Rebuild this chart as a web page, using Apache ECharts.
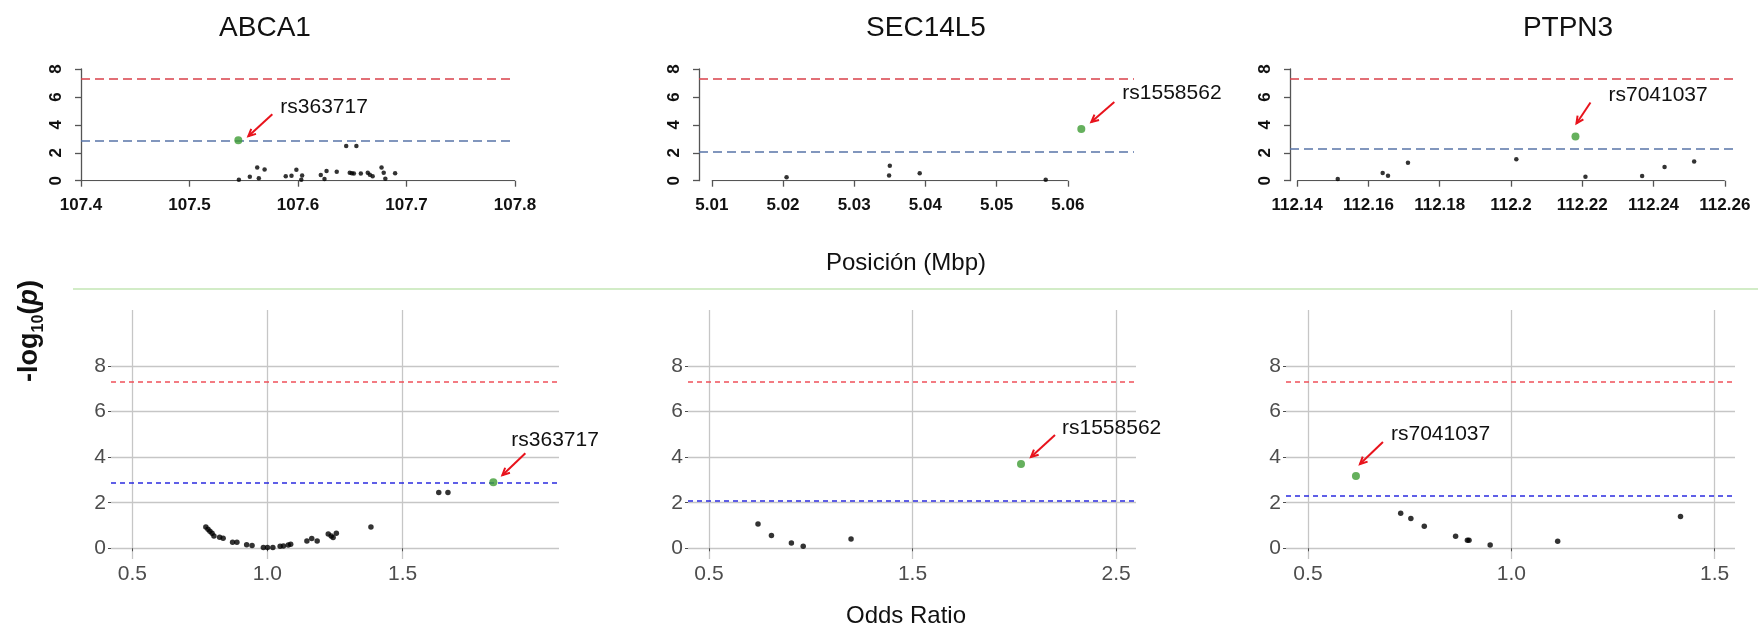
<!DOCTYPE html>
<html><head><meta charset="utf-8">
<script src="https://cdn.jsdelivr.net/npm/echarts@6/dist/echarts.min.js"></script>
<style>html,body{margin:0;padding:0;background:#fff}#c{width:1758px;height:629px}</style>
</head><body><div id="c"></div>
<script>
// ---------------- DATA ----------------
const genes = ['ABCA1', 'SEC14L5', 'PTPN3'];
const leadSnps = ['rs363717', 'rs1558562', 'rs7041037'];
const genomeWideLine = 7.3;
const suggestiveLines = [2.89, 2.08, 2.31];

// positions (Mbp) and -log10(p), top row
const abca1Pos = [107.5455,107.5556,107.5624,107.5639,107.5692,107.5887,107.594,107.5985,107.6038,107.603,107.621,107.6244,107.6263,107.6357,107.6444,107.6538,107.6477,107.6496,107.6515,107.6579,107.6643,107.6662,107.6688,107.677,107.679,107.6805,107.6895];
const abca1PosLogP = [0.07,0.28,0.95,0.17,0.8,0.31,0.36,0.78,0.38,0.07,0.4,0.12,0.69,0.64,2.49,2.49,0.57,0.54,0.52,0.52,0.57,0.43,0.31,0.95,0.57,0.14,0.54];
const sec14l5Pos = [5.0205,5.035,5.0349,5.0392,5.0569];
const sec14l5PosLogP = [0.24,1.07,0.38,0.54,0.07];
const ptpn3Pos = [112.1514,112.164,112.1655,112.1711,112.2015,112.2209,112.2368,112.2431,112.2514];
const ptpn3PosLogP = [0.12,0.55,0.36,1.29,1.53,0.29,0.33,0.98,1.38];

// odds ratios and -log10(p), bottom row
const abca1OR = [0.772,0.78,0.787,0.795,0.802,0.823,0.836,0.871,0.887,0.923,0.943,0.985,1.0,1.02,1.047,1.059,1.077,1.086,1.146,1.164,1.184,1.225,1.236,1.243,1.255,1.383,1.634,1.668];
const abca1ORLogP = [0.93,0.84,0.75,0.66,0.54,0.48,0.44,0.26,0.26,0.16,0.12,0.03,0.03,0.04,0.09,0.10,0.15,0.18,0.32,0.43,0.32,0.63,0.54,0.47,0.66,0.93,2.45,2.45];
const sec14l5OR = [0.741,0.807,0.905,0.963,1.198];
const sec14l5ORLogP = [1.07,0.56,0.23,0.09,0.41];
const ptpn3OR = [0.728,0.753,0.786,0.863,0.892,0.896,0.948,1.114,1.416];
const ptpn3ORLogP = [1.54,1.31,0.97,0.53,0.35,0.35,0.15,0.31,1.40];

// lead SNPs
const leadPos = [107.545, 5.0619, 112.2181];
const leadOR = [1.836, 2.033, 0.618];
const leadLogP = [2.9, 3.7, 3.17];

// tick values / labels
const posTicks = [
  [107.4, 107.5, 107.6, 107.7, 107.8],
  [5.01, 5.02, 5.03, 5.04, 5.05, 5.06],
  [112.14, 112.16, 112.18, 112.2, 112.22, 112.24, 112.26]
];
const orTicks = [[0.5, 1.0, 1.5], [0.5, 1.5, 2.5], [0.5, 1.0, 1.5]];
const logpTicks = [0, 2, 4, 6, 8];
const xTitleTop = 'Posición (Mbp)';
const xTitleBottom = 'Odds Ratio';

// ---------------- LAYOUT / STYLE ----------------
const FONT = "'Liberation Sans', Arial, Helvetica, sans-serif";
const posX = [abca1Pos, sec14l5Pos, ptpn3Pos];
const posY = [abca1PosLogP, sec14l5PosLogP, ptpn3PosLogP];
const orX = [abca1OR, sec14l5OR, ptpn3OR];
const orY = [abca1ORLogP, sec14l5ORLogP, ptpn3ORLogP];

const topGrid = [
  {left: 81, width: 434, min: 107.4, max: 107.8},
  {left: 699, width: 435, min: 5.0082, max: 5.0693},
  {left: 1290, width: 443, min: 112.138, max: 112.2623}
];
const topY = {top: 69, height: 111.7};
const botGrid = [
  {left: 111, width: 448, min: 0.421, max: 2.079},
  {left: 688, width: 448, min: 0.397, max: 2.598},
  {left: 1286, width: 449, min: 0.446, max: 1.55}
];
const botY = {top: 310, height: 249, min: -0.47, max: 10.46};

const topArrows = [
  {s: [34, -26], e: [10, -4], t: [42, -33]},
  {s: [33, -27], e: [10, -7], t: [41, -36]},
  {s: [15, -34], e: [1, -13], t: [33, -41]}
];
const botArrows = [
  {s: [32, -29], e: [9, -7], t: [18, -42]},
  {s: [34, -29], e: [10, -7], t: [41, -36]},
  {s: [27, -34], e: [4, -12], t: [35, -42]}
];

const zip = (a, b) => a.map((v, i) => [v, b[i]]);
const fmtPos = v => String(+(+v).toFixed(4));

function annotation(xi, yi, x, y, name, arr) {
  return {
    type: 'custom', xAxisIndex: xi, yAxisIndex: yi, clip: false, silent: true, z: 10,
    data: [[x, y]],
    renderItem: function (params, api) {
      const p = api.coord([api.value(0), api.value(1)]);
      const sx = p[0] + arr.s[0], sy = p[1] + arr.s[1];
      const ex = p[0] + arr.e[0], ey = p[1] + arr.e[1];
      const ang = Math.atan2(ey - sy, ex - sx);
      const hl = 8, ha = 0.45;
      const h1 = [ex - hl * Math.cos(ang - ha), ey - hl * Math.sin(ang - ha)];
      const h2 = [ex - hl * Math.cos(ang + ha), ey - hl * Math.sin(ang + ha)];
      return {
        type: 'group',
        children: [
          {type: 'line', shape: {x1: sx, y1: sy, x2: ex, y2: ey}, style: {stroke: '#e8131c', lineWidth: 2}},
          {type: 'polyline', shape: {points: [h1, [ex, ey], h2]}, style: {stroke: '#e8131c', lineWidth: 2, fill: null}},
          {type: 'text', style: {text: name, x: p[0] + arr.t[0], y: p[1] + arr.t[1], fill: '#111',
            font: '21px ' + FONT, align: 'left', verticalAlign: 'middle'}}
        ]
      };
    }
  };
}

const grids = [], xAxes = [], yAxes = [], series = [];

for (let i = 0; i < 3; i++) {
  // ---- top row (R-style regional plot) ----
  const g = topGrid[i];
  grids[i] = {left: g.left, top: topY.top, width: g.width, height: topY.height};
  xAxes[i] = {
    gridIndex: i, type: 'value', min: g.min, max: g.max,
    axisLine: {show: false},
    axisTick: {show: true, length: 6, customValues: posTicks[i], lineStyle: {color: '#555', width: 1.3}},
    axisLabel: {customValues: posTicks[i], formatter: fmtPos, fontFamily: FONT, fontWeight: 'bold',
      fontSize: 17, color: '#111', margin: 16},
    splitLine: {show: false}
  };
  yAxes[i] = {
    gridIndex: i, type: 'value', min: 0, max: 8, interval: 2,
    axisLine: {show: true, lineStyle: {color: '#555', width: 1.3}},
    axisTick: {show: true, length: 6, lineStyle: {color: '#555', width: 1.3}},
    axisLabel: {rotate: 90, fontFamily: FONT, fontWeight: 'bold', fontSize: 17, color: '#111', margin: 16},
    splitLine: {show: false}
  };
  series.push({
    type: 'line', xAxisIndex: i, yAxisIndex: i, silent: true, symbol: 'none',
    data: [[posTicks[i][0], 0], [posTicks[i][posTicks[i].length - 1], 0]],
    lineStyle: {color: '#555', width: 1.3}, z: 1
  });
  series.push({
    type: 'scatter', xAxisIndex: i, yAxisIndex: i, silent: true, clip: false,
    data: zip(posX[i], posY[i]), symbolSize: 4.5, itemStyle: {color: '#000'}, z: 5,
    markLine: {
      silent: true, symbol: 'none', label: {show: false}, animation: false,
      data: [
        {yAxis: genomeWideLine, lineStyle: {color: '#d9404a', type: [9, 5], width: 1.5}},
        {yAxis: suggestiveLines[i], lineStyle: {color: '#5874a8', type: [9, 5], width: 1.5}}
      ]
    }
  });
  series.push({
    type: 'scatter', xAxisIndex: i, yAxisIndex: i, silent: true, clip: false,
    data: [[leadPos[i], leadLogP[i]]], symbolSize: 8, itemStyle: {color: '#3f9c35'}, z: 6
  });
  series.push(annotation(i, i, leadPos[i], leadLogP[i], leadSnps[i], topArrows[i]));

  // ---- bottom row (ggplot-style OR plot) ----
  const b = botGrid[i];
  const k = 3 + i;
  grids[k] = {left: b.left, top: botY.top, width: b.width, height: botY.height};
  xAxes[k] = {
    gridIndex: k, type: 'value', min: b.min, max: b.max,
    axisLine: {show: false},
    axisTick: {show: true, length: 3, customValues: orTicks[i], lineStyle: {color: '#4d4d4d', width: 1}},
    axisLabel: {customValues: orTicks[i], formatter: v => (+v).toFixed(1), fontFamily: FONT,
      fontSize: 21, color: '#4d4d4d', margin: 5},
    splitLine: {show: true, lineStyle: {color: '#c6c6c6', width: 1.3}}
  };
  yAxes[k] = {
    gridIndex: k, type: 'value', min: botY.min, max: botY.max,
    axisLine: {show: false},
    axisTick: {show: true, length: 3, customValues: logpTicks, lineStyle: {color: '#4d4d4d', width: 1}},
    axisLabel: {customValues: logpTicks, fontFamily: FONT, fontSize: 21, color: '#4d4d4d', margin: 5},
    splitLine: {show: true, lineStyle: {color: '#c6c6c6', width: 1.3}}
  };
  series.push({
    type: 'scatter', xAxisIndex: k, yAxisIndex: k, silent: true, clip: false,
    data: zip(orX[i], orY[i]), symbolSize: 5.5, itemStyle: {color: '#000'}, z: 5,
    markLine: {
      silent: true, symbol: 'none', label: {show: false}, animation: false,
      data: [
        {yAxis: genomeWideLine, lineStyle: {color: '#f0505a', type: [5, 4], width: 1.5}},
        {yAxis: suggestiveLines[i], lineStyle: {color: '#2b2be0', type: [5, 4], width: 1.5}}
      ]
    }
  });
  series.push({
    type: 'scatter', xAxisIndex: k, yAxisIndex: k, silent: true, clip: false,
    data: [[leadOR[i], leadLogP[i]]], symbolSize: 8, itemStyle: {color: '#3f9c35'}, z: 6
  });
  series.push(annotation(k, k, leadOR[i], leadLogP[i], leadSnps[i], botArrows[i]));
}

const titleCenters = [265, 926, 1568];
const graphics = genes.map((gname, i) => ({
  type: 'text', x: titleCenters[i], y: 28, silent: true,
  style: {text: gname, font: '28px ' + FONT, fill: '#111', align: 'center', verticalAlign: 'middle'}
}));
graphics.push({type: 'text', x: 906, y: 263, silent: true,
  style: {text: xTitleTop, font: '24px ' + FONT, fill: '#111', align: 'center', verticalAlign: 'middle'}});
graphics.push({type: 'text', x: 906, y: 616, silent: true,
  style: {text: xTitleBottom, font: '24px ' + FONT, fill: '#111', align: 'center', verticalAlign: 'middle'}});
graphics.push({type: 'line', silent: true, shape: {x1: 73, y1: 289, x2: 1758, y2: 289},
  style: {stroke: '#c3e6b5', lineWidth: 1.5}});
graphics.push({
  type: 'text', x: 30, y: 331, rotation: Math.PI / 2, silent: true,
  style: {
    text: '{a|-log}{s|10}{a|(}{i|p}{a|)}',
    align: 'center', verticalAlign: 'middle',
    rich: {
      a: {fontFamily: FONT, fontSize: 27, fontWeight: 'bold', fill: '#111', lineHeight: 34},
      s: {fontFamily: FONT, fontSize: 16, fontWeight: 'bold', fill: '#111', lineHeight: 34, verticalAlign: 'bottom'},
      i: {fontFamily: FONT, fontSize: 27, fontWeight: 'bold', fontStyle: 'italic', fill: '#111', lineHeight: 34}
    }
  }
});

const chart = echarts.init(document.getElementById('c'), null, {renderer: 'canvas'});
chart.setOption({
  animation: false,
  backgroundColor: '#fff',
  grid: grids, xAxis: xAxes, yAxis: yAxes, series: series, graphic: graphics
});
</script></body></html>
